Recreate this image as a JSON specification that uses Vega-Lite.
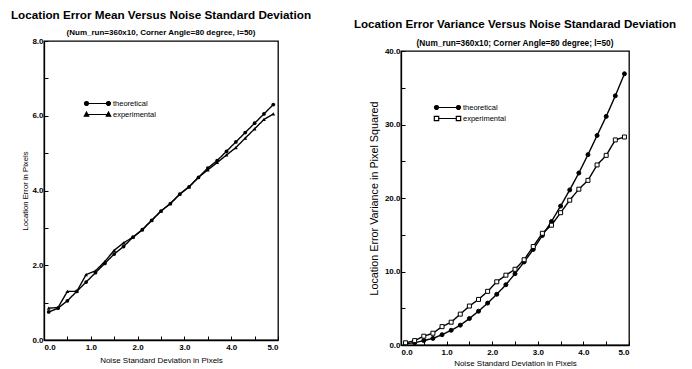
{
  "$schema": "https://vega.github.io/schema/vega-lite/v6.json",
  "background": "white",
  "padding": {"left": 10, "top": 9, "right": 3, "bottom": 0},
  "spacing": 123,
  "bounds": "flush",
  "resolve": {"scale": {"strokeDash": "independent"}, "legend": {"strokeDash": "independent"}},
  "config": {
    "font": "Liberation Sans",
    "view": {"stroke": "black", "strokeWidth": 1.3},
    "axis": {"domainColor": "black", "tickColor": "black", "labelColor": "black", "titleColor": "black", "labelFont": "Liberation Sans", "titleFont": "Liberation Sans", "labelFontSize": 8, "labelFontWeight": "bold", "titleFontSize": 8, "titleFontWeight": "normal", "grid": false, "tickSize": -4, "labelPadding": 5, "domainWidth": 1.3},
    "axisX": {"labelPadding": 7},
    "title": {"font": "Liberation Sans", "fontWeight": "bold", "color": "black", "subtitleColor": "black", "subtitleFont": "Liberation Sans", "subtitleFontSize": 8, "subtitleFontWeight": "bold", "anchor": "middle", "frame": "group"},
    "legend": {"labelFontSize": 7.5, "labelFont": "Liberation Sans", "labelColor": "black", "rowPadding": 0, "padding": 0, "labelOffset": 9}
  },
  "datasets": {
    "mean": [
      {"x": 0.1, "y": 0.75, "series": "theoretical"}, {"x": 0.3, "y": 0.85, "series": "theoretical"}, {"x": 0.5, "y": 1.05, "series": "theoretical"}, {"x": 0.7, "y": 1.3, "series": "theoretical"}, {"x": 0.9, "y": 1.55, "series": "theoretical"}, {"x": 1.1, "y": 1.8, "series": "theoretical"}, {"x": 1.3, "y": 2.05, "series": "theoretical"}, {"x": 1.5, "y": 2.3, "series": "theoretical"}, {"x": 1.7, "y": 2.5, "series": "theoretical"}, {"x": 1.9, "y": 2.75, "series": "theoretical"}, {"x": 2.1, "y": 2.95, "series": "theoretical"}, {"x": 2.3, "y": 3.2, "series": "theoretical"}, {"x": 2.5, "y": 3.45, "series": "theoretical"}, {"x": 2.7, "y": 3.65, "series": "theoretical"}, {"x": 2.9, "y": 3.9, "series": "theoretical"}, {"x": 3.1, "y": 4.1, "series": "theoretical"}, {"x": 3.3, "y": 4.35, "series": "theoretical"}, {"x": 3.5, "y": 4.6, "series": "theoretical"}, {"x": 3.7, "y": 4.8, "series": "theoretical"}, {"x": 3.9, "y": 5.05, "series": "theoretical"}, {"x": 4.1, "y": 5.3, "series": "theoretical"}, {"x": 4.3, "y": 5.55, "series": "theoretical"}, {"x": 4.5, "y": 5.8, "series": "theoretical"}, {"x": 4.7, "y": 6.05, "series": "theoretical"}, {"x": 4.9, "y": 6.3, "series": "theoretical"},
      {"x": 0.1, "y": 0.85, "series": "experimental"}, {"x": 0.3, "y": 0.87, "series": "experimental"}, {"x": 0.5, "y": 1.3, "series": "experimental"}, {"x": 0.7, "y": 1.3, "series": "experimental"}, {"x": 0.9, "y": 1.75, "series": "experimental"}, {"x": 1.1, "y": 1.85, "series": "experimental"}, {"x": 1.3, "y": 2.1, "series": "experimental"}, {"x": 1.5, "y": 2.4, "series": "experimental"}, {"x": 1.7, "y": 2.6, "series": "experimental"}, {"x": 1.9, "y": 2.75, "series": "experimental"}, {"x": 2.1, "y": 2.95, "series": "experimental"}, {"x": 2.3, "y": 3.2, "series": "experimental"}, {"x": 2.5, "y": 3.45, "series": "experimental"}, {"x": 2.7, "y": 3.65, "series": "experimental"}, {"x": 2.9, "y": 3.9, "series": "experimental"}, {"x": 3.1, "y": 4.1, "series": "experimental"}, {"x": 3.3, "y": 4.35, "series": "experimental"}, {"x": 3.5, "y": 4.55, "series": "experimental"}, {"x": 3.7, "y": 4.75, "series": "experimental"}, {"x": 3.9, "y": 4.95, "series": "experimental"}, {"x": 4.1, "y": 5.15, "series": "experimental"}, {"x": 4.3, "y": 5.4, "series": "experimental"}, {"x": 4.5, "y": 5.65, "series": "experimental"}, {"x": 4.7, "y": 5.9, "series": "experimental"}, {"x": 4.9, "y": 6.05, "series": "experimental"}
    ],
    "variance": [
      {"x": 0.1, "y": 0.2, "series": "theoretical"}, {"x": 0.3, "y": 0.3, "series": "theoretical"}, {"x": 0.5, "y": 0.6, "series": "theoretical"}, {"x": 0.7, "y": 0.9, "series": "theoretical"}, {"x": 0.9, "y": 1.4, "series": "theoretical"}, {"x": 1.1, "y": 2.0, "series": "theoretical"}, {"x": 1.3, "y": 2.7, "series": "theoretical"}, {"x": 1.5, "y": 3.6, "series": "theoretical"}, {"x": 1.7, "y": 4.6, "series": "theoretical"}, {"x": 1.9, "y": 5.7, "series": "theoretical"}, {"x": 2.1, "y": 6.9, "series": "theoretical"}, {"x": 2.3, "y": 8.2, "series": "theoretical"}, {"x": 2.5, "y": 9.7, "series": "theoretical"}, {"x": 2.7, "y": 11.3, "series": "theoretical"}, {"x": 2.9, "y": 13.0, "series": "theoretical"}, {"x": 3.1, "y": 14.9, "series": "theoretical"}, {"x": 3.3, "y": 16.8, "series": "theoretical"}, {"x": 3.5, "y": 18.9, "series": "theoretical"}, {"x": 3.7, "y": 21.1, "series": "theoretical"}, {"x": 3.9, "y": 23.4, "series": "theoretical"}, {"x": 4.1, "y": 25.9, "series": "theoretical"}, {"x": 4.3, "y": 28.5, "series": "theoretical"}, {"x": 4.5, "y": 31.1, "series": "theoretical"}, {"x": 4.7, "y": 33.9, "series": "theoretical"}, {"x": 4.9, "y": 36.9, "series": "theoretical"},
      {"x": 0.1, "y": 0.3, "series": "experimental"}, {"x": 0.3, "y": 0.6, "series": "experimental"}, {"x": 0.5, "y": 1.2, "series": "experimental"}, {"x": 0.7, "y": 1.6, "series": "experimental"}, {"x": 0.9, "y": 2.5, "series": "experimental"}, {"x": 1.1, "y": 3.1, "series": "experimental"}, {"x": 1.3, "y": 4.2, "series": "experimental"}, {"x": 1.5, "y": 5.3, "series": "experimental"}, {"x": 1.7, "y": 6.2, "series": "experimental"}, {"x": 1.9, "y": 7.3, "series": "experimental"}, {"x": 2.1, "y": 8.6, "series": "experimental"}, {"x": 2.3, "y": 9.5, "series": "experimental"}, {"x": 2.5, "y": 10.3, "series": "experimental"}, {"x": 2.7, "y": 11.6, "series": "experimental"}, {"x": 2.9, "y": 13.4, "series": "experimental"}, {"x": 3.1, "y": 15.2, "series": "experimental"}, {"x": 3.3, "y": 16.3, "series": "experimental"}, {"x": 3.5, "y": 18.0, "series": "experimental"}, {"x": 3.7, "y": 19.7, "series": "experimental"}, {"x": 3.9, "y": 21.2, "series": "experimental"}, {"x": 4.1, "y": 22.4, "series": "experimental"}, {"x": 4.3, "y": 24.5, "series": "experimental"}, {"x": 4.5, "y": 25.8, "series": "experimental"}, {"x": 4.7, "y": 27.9, "series": "experimental"}, {"x": 4.9, "y": 28.3, "series": "experimental"}
    ]
  },
  "hconcat": [
    {
      "width": 234,
      "height": 299,
      "title": {"text": "Location Error Mean Versus Noise Standard Deviation", "subtitle": "(Num_run=360x10, Corner Angle=80 degree, l=50)", "fontSize": 11.7, "offset": 0, "subtitlePadding": 7},
      "data": {"name": "mean"},
      "encoding": {
        "x": {"field": "x", "type": "quantitative", "scale": {"domain": [0, 5]}, "axis": {"title": "Noise Standard Deviation in Pixels", "values": [0, 0.5, 1, 1.5, 2, 2.5, 3, 3.5, 4, 4.5, 5], "labelExpr": "datum.value % 1 === 0 ? format(datum.value, '.1f') : ''", "titlePadding": 5}},
        "y": {"field": "y", "type": "quantitative", "scale": {"domain": [0, 8]}, "axis": {"title": "Location Error in Pixels", "titleFontSize": 7.7, "values": [0, 1, 2, 3, 4, 5, 6, 7, 8], "labelExpr": "datum.value % 2 === 0 ? format(datum.value, '.1f') : ''", "titlePadding": 2}}
      },
      "layer": [
        {"mark": {"type": "line", "color": "black", "strokeWidth": 1.4}, "encoding": {"detail": {"field": "series"}, "strokeDash": {"field": "series", "type": "nominal", "scale": {"domain": ["theoretical", "experimental"], "range": [[1, 0], [1, 0]]}, "legend": {"title": null, "orient": "none", "legendX": 47, "legendY": 56, "symbolSize": 121, "symbolStrokeColor": "black", "symbolFillColor": "black", "symbolStrokeWidth": 1.2, "encode": {"symbols": {"update": {"shape": {"signal": "datum.value === 'theoretical' ? 'M-2,0H2M-2.36,0a0.36,0.36 0 1,0 0.72,0a0.36,0.36 0 1,0 -0.72,0ZM1.64,0a0.36,0.36 0 1,0 0.72,0a0.36,0.36 0 1,0 -0.72,0Z' : 'M-2,0H2M-2,-0.45L-1.6,0.3L-2.4,0.3ZM2,-0.45L2.4,0.3L1.6,0.3Z'"}}}}}}}},
        {"mark": {"type": "point", "filled": true, "color": "black", "size": 14, "opacity": 1}, "encoding": {"shape": {"condition": {"test": "datum.series === 'theoretical'", "value": "circle"}, "value": "triangle-up"}}}
      ]
    },
    {
      "bounds": "flush",
      "spacing": 9,
      "vconcat": [
        {"width": 228, "height": 1, "view": {"stroke": null}, "data": {"values": []}, "mark": "point"},
        {
          "width": 228,
          "height": 294,
          "title": {"text": "Location Error Variance Versus Noise Standarad Deviation", "subtitle": "(Num_run=360x10; Corner Angle=80 degree; l=50)", "fontSize": 11.6, "offset": 0, "subtitlePadding": 8, "subtitleFontSize": 8.3},
          "data": {"name": "variance"},
          "encoding": {
            "x": {"field": "x", "type": "quantitative", "scale": {"domain": [0, 5]}, "axis": {"title": "Noise Standard Deviation in Pixels", "values": [0, 0.5, 1, 1.5, 2, 2.5, 3, 3.5, 4, 4.5, 5], "labelExpr": "datum.value % 1 === 0 ? format(datum.value, '.1f') : ''", "titlePadding": 3}},
            "y": {"field": "y", "type": "quantitative", "scale": {"domain": [0, 40]}, "axis": {"title": "Location Error Variance in Pixel Squared", "titleFontSize": 10.8, "values": [0, 5, 10, 15, 20, 25, 30, 35, 40], "labelExpr": "datum.value % 10 === 0 ? format(datum.value, '.1f') : ''", "titlePadding": 5}}
          },
          "layer": [
            {"mark": {"type": "line", "color": "black", "strokeWidth": 1.4}, "encoding": {"detail": {"field": "series"}, "strokeDash": {"field": "series", "type": "nominal", "scale": {"domain": ["theoretical", "experimental"], "range": [[1, 0], [1, 0]]}, "legend": {"title": null, "orient": "none", "legendX": 40, "legendY": 60, "symbolSize": 121, "symbolStrokeColor": "black", "symbolFillColor": "white", "symbolStrokeWidth": 1.2, "encode": {"symbols": {"update": {"shape": {"signal": "datum.value === 'theoretical' ? 'M-2,0H2M-2.36,0a0.36,0.36 0 1,0 0.72,0a0.36,0.36 0 1,0 -0.72,0ZM1.64,0a0.36,0.36 0 1,0 0.72,0a0.36,0.36 0 1,0 -0.72,0Z' : 'M-1.6,0H1.6M-2.4,-0.4H-1.6V0.4H-2.4ZM1.6,-0.4H2.4V0.4H1.6Z'"}, "fill": {"signal": "datum.value === 'theoretical' ? 'black' : 'white'"}, "stroke": {"value": "black"}, "strokeWidth": {"value": 1.2}, "strokeOpacity": {"value": 1}}}}}}}},
            {"mark": {"type": "point", "color": "black", "size": 16, "strokeWidth": 1, "opacity": 1}, "encoding": {"shape": {"condition": {"test": "datum.series === 'theoretical'", "value": "circle"}, "value": "square"}, "fill": {"condition": {"test": "datum.series === 'theoretical'", "value": "black"}, "value": "white"}}}
          ]
        }
      ]
    }
  ]
}
